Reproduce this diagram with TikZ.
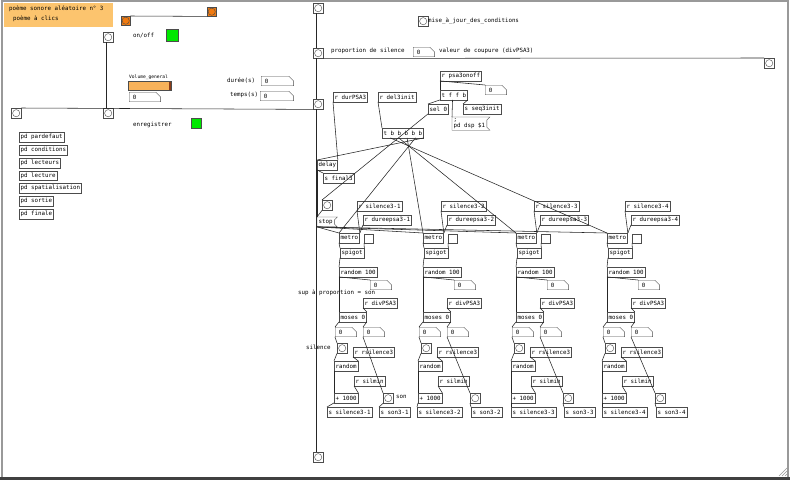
\documentclass[tikz,border=0pt]{standalone}
\usepackage{fontspec}
\newfontfamily\pdfont{DejaVu Sans Mono}
\usepackage{tikz}
\usetikzlibrary{calc,positioning,shapes.misc}

\definecolor{pdgray}{gray}{0.3}
\definecolor{pdlight}{RGB}{252,196,110}
\definecolor{pdorange}{RGB}{240,122,16}
\definecolor{pdslider}{RGB}{248,178,90}
\definecolor{pdbrown}{RGB}{140,60,25}
\definecolor{pdgreen}{RGB}{0,232,0}

\newcommand{\pdtiny}{\pdfont\fontsize{5.8}{6.6}\selectfont}
% message box outline (flag on the right)
\newcommand{\msgflag}[1]{\draw[pdgray] (#1.north west) -- ([xshift=3pt]#1.north east) -- ([yshift=-3pt]#1.north east) -- ([yshift=3pt]#1.south east) -- ([xshift=3pt]#1.south east) -- (#1.south west) -- cycle;}

\tikzset{
  pdobj/.style={draw=pdgray, anchor=north west, inner xsep=1.5pt, inner ysep=0pt, minimum height=9.5pt, font=\pdtiny},
  pdmsg/.style={pdobj, draw=none, align=left},
  pdtext/.style={anchor=west, inner sep=0pt, font=\pdtiny},
  pdbang/.style={draw=pdgray, anchor=north west, minimum size=10pt, inner sep=0pt, path picture={\draw[pdgray] (path picture bounding box.center) circle (3.6pt);}},
  pdtgl/.style={draw=pdgray, anchor=north west, minimum size=9pt, inner sep=0pt},
  pdnum/.style={pdobj, chamfered rectangle, chamfered rectangle corners=north east, chamfered rectangle xsep=2.5pt, chamfered rectangle ysep=2.5pt, text width=#1, align=left},
  pdslider/.style={draw=pdgray, fill=pdslider, anchor=north west, minimum width=43pt, minimum height=9pt, inner sep=0pt, path picture={\fill[pdbrown] ([xshift=-2.5pt]path picture bounding box.north east) rectangle (path picture bounding box.south east);}},
  wire/.style={draw=black!85, line width=0.55pt},
}

\begin{document}
\begin{tikzpicture}[x=1pt,y=-1pt]

% window
\fill[white] (0,0) rectangle (790,480);
\useasboundingbox (0,0) rectangle (790,480);
\draw[black!40, line width=1.5pt] (2,477) -- (2,1) -- (788,1) -- (788,477);
\fill[black!75] (0,477) rectangle (790,480);
\draw[black!40] (779,476) -- (787,468) (782,476) -- (787,471) (785,476) -- (787,474);

% title
\node[fill=pdlight, anchor=north west, minimum width=109pt, minimum height=24pt] (titre) at (4,3) {};
\node[pdtext] (titreA) at (9,9) {poème sonore aléatoire n° 3};
\node[pdtext] (titreB) at (13,19) {poème à clics};

% orange bangs
\node[pdbang, fill=pdorange, minimum size=9pt] (obA) at (121,16) {};
\node[pdbang, fill=pdorange, minimum size=9pt] (obB) at (207,7) {};
\draw[wire] (obB.south west) -- (obA.north east);

% on/off and volume
\node[pdbang] (bOn) at (103,32) {};
\node[pdtext] (lOn) at (133,36) {on/off};
\node[pdtgl, fill=pdgreen, minimum size=12pt] (tOn) at (166,29) {};
\node[pdtext, font=\pdfont\fontsize{4.6}{5}\selectfont] (lVol) at (129,77) {Volume\_general};
\node[pdslider] (vol) at (128,81) {};
\node[pdnum=24pt] (nVol) at (129,92) {0};
\node[pdtext] (lDur) at (227,81) {durée(s)};
\node[pdnum=25pt] (nDur) at (261,76) {0};
\node[pdtext] (lTps) at (230,95) {temps(s)};
\node[pdnum=26pt] (nTps) at (260,91) {0};

% left bus
\node[pdbang] (bL) at (11,108) {};
\node[pdbang] (bM) at (103,108) {};
\node[pdtext] (lRec) at (133,125) {enregistrer};
\node[pdtgl, fill=pdgreen, minimum size=10pt] (tRec) at (191,118) {};

% subpatches
\node[pdobj] (pdA) at (19,132) {pd pardefaut};
\node[pdobj] (pdB) at (19,145) {pd conditions};
\node[pdobj] (pdC) at (19,158) {pd lecteurs};
\node[pdobj] (pdD) at (19,170.5) {pd lecture};
\node[pdobj] (pdE) at (19,183) {pd spatialisation};
\node[pdobj] (pdF) at (19,196) {pd sortie};
\node[pdobj] (pdG) at (19,209) {pd finale};

% vertical bus
\node[pdbang] (vbA) at (313,3) {};
\node[pdbang] (vbB) at (313,48) {};
\node[pdbang] (vbC) at (313,99) {};
\node[pdbang] (vbD) at (313,452) {};
\node[pdbang] (vbR) at (764,58) {};
\draw[wire] ([xshift=3pt]vbA.south west) -- ([xshift=3pt]vbB.north west);
\draw[wire] ([xshift=3pt]vbB.south west) -- ([xshift=3pt]vbC.north west);
\draw[wire] ([xshift=3pt]vbC.south west) -- ([xshift=3pt]vbD.north west);
\draw[wire] (vbB.south east) -- (vbR.north west);
\draw[wire] ([xshift=3pt]bOn.south west) -- ([xshift=3pt]bM.north west);
\draw[wire] (bL.north east) -- (vbC.south west);

% conditions
\node[pdbang] (bCond) at (418,16) {};
\node[pdtext] (lCond) at (428,21) {mise\_à\_jour\_des\_conditions};
\node[pdtext] (lProp) at (331,51) {proportion de silence};
\node[pdnum=14pt] (nProp) at (413,47) {0};
\node[pdtext] (lCoup) at (439,51) {valeur de coupure (divPSA3)};

% dsp switch
\node[pdobj] (rPsa) at (440,71) {r psa3onoff};
\node[pdnum=14pt] (nPsa) at (485,85) {0};
\node[pdobj] (tffb) at (440,90) {t f f b};
\node[pdobj] (sel) at (428,104) {sel 0};
\node[pdobj] (sSeq) at (463,104) {s seq3init};
\node[pdmsg, inner ysep=1pt] (dsp) at (452,117) {;\\pd dsp \$1};
\msgflag{dsp}

% start / stop
\node[pdobj] (rDur) at (333,92) {r durPSA3};
\node[pdobj] (rDel) at (378,92) {r del3init};
\node[pdobj] (tb) at (382,128) {t b b b b b};
\node[pdobj] (del) at (317,160) {delay};
\node[pdobj] (sFin) at (323,173) {s final3};
\node[pdbang] (bStop) at (322,200) {};
\node[pdmsg] (stop) at (317,217) {stop};
\msgflag{stop}

\draw[wire] (rPsa.south west) -- (tffb.north west);
\draw[wire] (rPsa.south west) -- (nPsa.north west);
\draw[wire] (tffb.south west) -- (sel.north west);
\draw[wire] ($(tffb.south west)!0.45!(tffb.south east)$) -- (dsp.north west);
\draw[wire] (tffb.south east) -- (sSeq.north west);
\draw[wire] (sel.south west) -- (bStop.north west);
\draw[wire] (bStop.south west) -- (stop.north west);
\draw[wire] (rDur.south west) -- (del.north east);
\draw[wire] (rDel.south west) -- (tb.north west);
\draw[wire] (tb.south east) -- (del.north west);
\draw[wire] (del.south west) -- (stop.north west);
\draw[wire] (del.south west) -- (sFin.north west);

% column labels
\node[pdtext] (lSup) at (298,293) {sup à proportion = son};
\node[pdtext] (lSil) at (306,347) {silence};
\node[pdtext] (lSon) at (396,397) {son};

% the four players
\foreach \c/\X/\S/\B/\N in {1/339/327/383/379,2/423/417/470/471,3/516/511/563/564,4/607/602/655/656}{
  \node[pdobj] (rs\c) at (\X+18,201) {r silence3-\c};
  \node[pdobj] (rd\c) at (\X+24,215) {r dureepsa3-\c};
  \node[pdobj] (me\c) at (\X,233) {metro};
  \node[pdtgl] (tg\c) at (\X+25,234) {};
  \node[pdobj] (sp\c) at (\X+1,248) {spigot};
  \node[pdobj] (rh\c) at (\X,267) {random 100};
  \node[pdnum=14pt] (nr\c) at (\X+31,280) {0};
  \node[pdobj] (dv\c) at (\X+24,298) {r divPSA3};
  \node[pdobj] (mo\c) at (\X,312) {moses 0};
  \node[pdnum=14pt] (nl\c) at (\X-4,327) {0};
  \node[pdnum=14pt] (nn\c) at (\X+24,327) {0};
  \node[pdbang] (bs\c) at (\X-2,343) {};
  \node[pdobj] (rr\c) at (\X+14,347) {r rsilence3};
  \node[pdobj] (ra\c) at (\X-5,361) {random};
  \node[pdobj] (sm\c) at (\X+15,376) {r silmin};
  \node[pdobj] (pl\c) at (\X-5,393) {+ 1000};
  \node[pdbang] (bn\c) at (\B,393) {};
  \node[pdobj] (ss\c) at (\S,407) {s silence3-\c};
  \node[pdobj] (sn\c) at (\N,407) {s son3-\c};
  \draw[wire] (rs\c.south west) -- (me\c.north east);
  \draw[wire] (rd\c.south west) -- (me\c.north east);
  \draw[wire] (me\c.south west) -- (sp\c.north west);
  \draw[wire] (tg\c.south west) -- (sp\c.north east);
  \draw[wire] (sp\c.south west) -- (rh\c.north west);
  \draw[wire] (rh\c.south west) -- (nr\c.north west);
  \draw[wire] (rh\c.south west) -- (mo\c.north west);
  \draw[wire] (dv\c.south west) -- (mo\c.north east);
  \draw[wire] (mo\c.south west) -- (nl\c.north west);
  \draw[wire] (mo\c.south east) -- (nn\c.north west);
  \draw[wire] (nl\c.south west) -- (bs\c.north west);
  \draw[wire] (nn\c.south west) -- (bn\c.north west);
  \draw[wire] (bs\c.south west) -- (ra\c.north west);
  \draw[wire] (rr\c.south west) -- (ra\c.north east);
  \draw[wire] (ra\c.south west) -- (pl\c.north west);
  \draw[wire] (sm\c.south west) -- (pl\c.north east);
  \draw[wire] (pl\c.south west) -- (ss\c.north west);
  \draw[wire] (bn\c.south west) -- (sn\c.north west);
  \draw[wire] (stop.south west) -- (me\c.north west);
  \pgfmathsetmacro\fr{(5-\c)/5}
  \draw[wire] ($(tb.south west)!\fr!(tb.south east)$) -- (me\c.north west);
}

\end{tikzpicture}
\end{document}
